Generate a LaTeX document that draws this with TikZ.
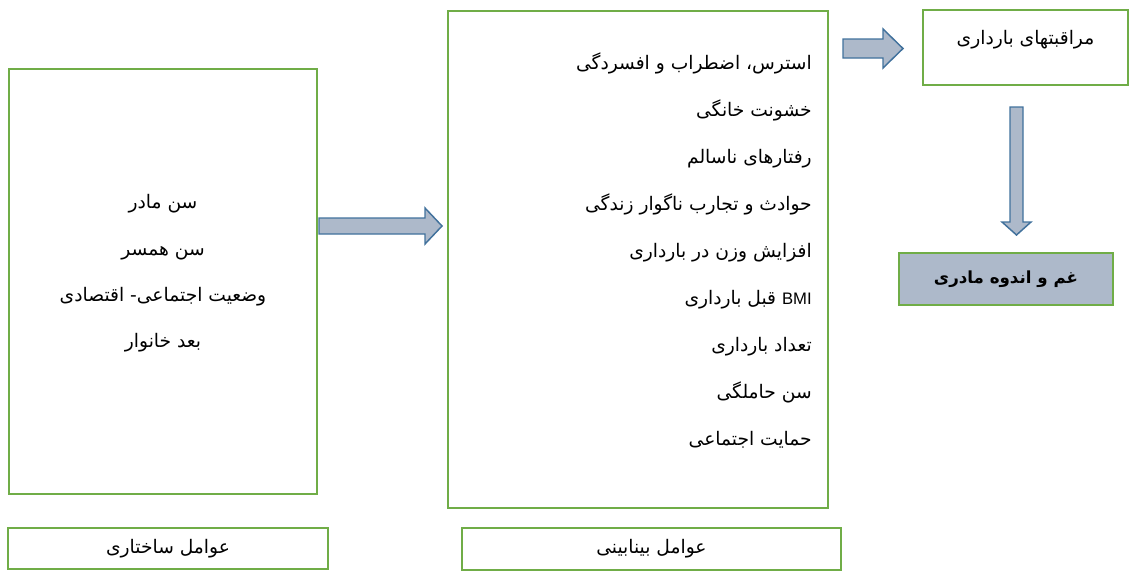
\documentclass[tikz,border=0pt]{standalone}
\usepackage{fontspec}
\setmainfont{Liberation Sans}
\newfontfamily\arabicfont[Script=Arabic]{DejaVu Sans}
\TeXXeTstate=1
\usetikzlibrary{positioning}

\definecolor{boxgreen}{HTML}{70AD47}
\definecolor{arrowfill}{HTML}{ADB9CA}
\definecolor{arrowline}{HTML}{41719C}

\begin{document}
\begin{tikzpicture}[x=0.75pt,y=-0.75pt,
    factor/.style = {draw=boxgreen, line width=1.5pt, inner sep=0pt, outer sep=0pt},
    txt/.style = {inner sep=0pt, font=\arabicfont\fontsize{14pt}{16pt}\selectfont},
    blockarrow/.style = {draw=arrowline, fill=arrowfill, line width=1.1pt, line join=miter}]
  \useasboundingbox (0,0) rectangle (1129,571);

  \node[factor, minimum width=231pt, minimum height=318.75pt] (struct_box)  at (163,281.5) {};
  \node[factor, minimum width=285pt, minimum height=372.75pt] (inter_box)   at (638,259.5) {};
  \node[factor, minimum width=153.75pt, minimum height=56.25pt] (care_box)  at (1025.5,47.5) {};
  \node[factor, fill=arrowfill, minimum width=160.5pt, minimum height=39pt] (grief_box) at (1006,279)
       {\arabicfont\fontsize{12.5pt}{14pt}\selectfont\bfseries\beginR غم و اندوه مادری\endR};
  \node[factor, minimum width=240pt, minimum height=30.75pt] (struct_title) at (168,548.5)
       {\arabicfont\fontsize{14pt}{16pt}\selectfont\beginR عوامل ساختاری\endR};
  \node[factor, minimum width=284.25pt, minimum height=31.5pt] (inter_title) at (651.5,549)
       {\arabicfont\fontsize{14pt}{16pt}\selectfont\beginR عوامل بینابینی\endR};

  \node[txt, align=center, font=\arabicfont\fontsize{14pt}{34.75pt}\selectfont] (struct_list) at (163,273.5)
       {\beginR سن مادر\endR\\
        \beginR سن همسر\endR\\
        \beginR وضعیت اجتماعی- اقتصادی\endR\\
        \beginR بعد خانوار\endR};
  \node[txt, align=right, anchor=east, font=\arabicfont\fontsize{14pt}{35.3pt}\selectfont] (inter_list) at (812,250.5)
       {\beginR استرس، اضطراب و افسردگی\endR\\
        \beginR خشونت خانگی\endR\\
        \beginR رفتارهای ناسالم\endR\\
        \beginR حوادث و تجارب ناگوار زندگی\endR\\
        \beginR افزایش وزن در بارداری\endR\\
        \beginR\beginL {\rmfamily\fontsize{12.5pt}{14pt}\selectfont BMI}\endL{} قبل بارداری\endR\\
        \beginR تعداد بارداری\endR\\
        \beginR سن حاملگی\endR\\
        \beginR حمایت اجتماعی\endR};
  \node[txt] (care_text) at (1025.5,40) {\beginR مراقبتهای بارداری\endR};

  \coordinate (arr_inter) at (319,226);
  \coordinate (arr_care)  at (843,48.5);
  \coordinate (arr_grief) at (1016.5,107);

  \draw[blockarrow] (arr_inter) ++(0,-8) -- ++(106,0) -- ++(0,-10) -- ++(17,18)
        -- ++(-17,18) -- ++(0,-10) -- ++(-106,0) -- cycle;
  \draw[blockarrow] (arr_care) ++(0,-9.5) -- ++(40,0) -- ++(0,-10) -- ++(20,19.5)
        -- ++(-20,19.5) -- ++(0,-10) -- ++(-40,0) -- cycle;
  \draw[blockarrow] (arr_grief) ++(-6.5,0) -- ++(0,115) -- ++(-8,0) -- ++(14.5,13)
        -- ++(14.5,-13) -- ++(-8,0) -- ++(0,-115) -- cycle;
\end{tikzpicture}
\end{document}
